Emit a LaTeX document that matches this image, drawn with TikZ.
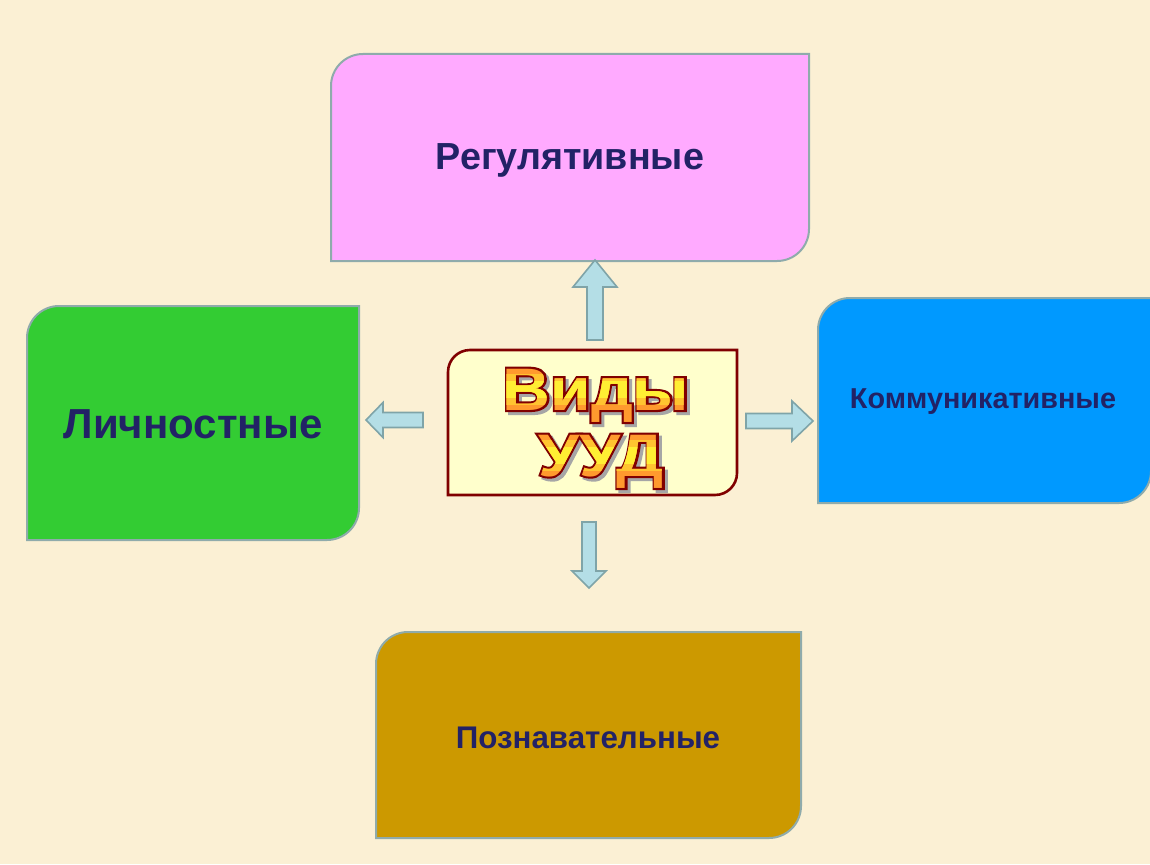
\documentclass[tikz,border=0pt]{standalone}
\usepackage{fontspec}
\setmainfont{Liberation Sans}
\newfontfamily\vidfont[FakeStretch=1.1]{Liberation Sans}
\newfontfamily\videdge[FakeStretch=1.1,FakeBold=7]{Liberation Sans}
\definecolor{paper}{HTML}{FBF0D4}
\definecolor{ink}{HTML}{222266}
\definecolor{rim}{HTML}{8FABAB}
\definecolor{pinkbox}{HTML}{FFAAFF}
\definecolor{greenbox}{HTML}{33CC33}
\definecolor{bluebox}{HTML}{0099FF}
\definecolor{goldbox}{HTML}{CC9900}
\definecolor{vidback}{HTML}{FFFFCC}
\definecolor{vidrim}{HTML}{800000}
\definecolor{arrfill}{HTML}{B4DEE6}
\definecolor{arrrim}{HTML}{7FA4A8}
\definecolor{vidorange}{HTML}{FF9A2E}
\definecolor{vidmid}{HTML}{FFC430}
\definecolor{vidyellow}{HTML}{FFEE33}
\begin{document}
\begin{tikzpicture}[x=1pt,y=-1pt,
    box/.style={draw=rim, line width=2pt},
    lbl/.style={text=ink, inner sep=0pt},
    blk/.style={draw=arrrim, fill=arrfill, line width=1.6pt, line join=miter}]
    \fill[paper] (0,0) rectangle (1150,864);
    \useasboundingbox (0,0) rectangle (1150,864);

    % boxes: top-left and bottom-right corners rounded
    \draw[box, fill=pinkbox] (331,261) -- (331,86) arc[start angle=180, end angle=270, radius=32]
        -- (809,54) -- (809,229) arc[start angle=0, end angle=90, radius=32] -- cycle;
    \draw[box, fill=greenbox] (27,540) -- (27,338) arc[start angle=180, end angle=270, radius=32]
        -- (359,306) -- (359,508) arc[start angle=0, end angle=90, radius=32] -- cycle;
    \draw[box, fill=bluebox] (818,503) -- (818,330) arc[start angle=180, end angle=270, radius=32]
        -- (1151,298) -- (1151,471) arc[start angle=0, end angle=90, radius=32] -- cycle;
    \draw[box, fill=goldbox] (376,838) -- (376,664) arc[start angle=180, end angle=270, radius=32]
        -- (801,632) -- (801,806) arc[start angle=0, end angle=90, radius=32] -- cycle;
    \draw[draw=vidrim, line width=2.6pt, fill=vidback] (448,495) -- (448,372) arc[start angle=180, end angle=270, radius=22]
        -- (737,350) -- (737,473) arc[start angle=0, end angle=90, radius=22] -- cycle;

    \node[lbl, font=\bfseries\fontsize{37.7}{40}\selectfont] (REG) at (570,160) {Регулятивные};
    \node[lbl, font=\bfseries\fontsize{42}{46}\selectfont] (LIC) at (193,424) {Личностные};
    \node[lbl, font=\bfseries\fontsize{28.8}{32}\selectfont] (KOM) at (983,402) {Коммуникативные};
    \node[lbl, font=\bfseries\fontsize{31.3}{34}\selectfont] (POZ) at (588,738) {Познавательные};

    % block arrows, drawn pointing right and turned
    \begin{scope}[shift={(595,340)}, rotate=90]
        \draw[blk] (0,8) -- (53,8) -- (53,22) -- (80,0) -- (53,-22) -- (53,-8) -- (0,-8) -- cycle;
    \end{scope}
    \begin{scope}[shift={(423,420)}, rotate=180]
        \draw[blk] (0,7.5) -- (40,7.5) -- (40,17.5) -- (57,0) -- (40,-17.5) -- (40,-7.5) -- (0,-7.5) -- cycle;
    \end{scope}
    \begin{scope}[shift={(746,421)}]
        \draw[blk] (0,7.5) -- (46,7.5) -- (46,20) -- (67,0) -- (46,-20) -- (46,-7.5) -- (0,-7.5) -- cycle;
    \end{scope}
    \begin{scope}[shift={(589,522)}, rotate=270]
        \draw[blk] (0,7) -- (49,7) -- (49,17) -- (66,0) -- (49,-17) -- (49,-7) -- (0,-7) -- cycle;
    \end{scope}

    % title lettering
    \foreach \word/\wx/\wy [count=\i] in {Виды/596/410, УУД/601/476} {
        \node[anchor=base, inner sep=0pt, text=black!35, font=\videdge\bfseries\fontsize{60}{64}\selectfont]
            (vs\i) at (\wx+3,\wy+3) {\word};
        \node[anchor=base, inner sep=0pt, text=vidrim, font=\videdge\bfseries\fontsize{60}{64}\selectfont]
            (ve\i) at (\wx,\wy) {\word};
        \node[anchor=base, inner sep=0pt, text=vidorange, font=\vidfont\bfseries\fontsize{60}{64}\selectfont]
            (vf\i) at (\wx,\wy) {\word};
        \begin{scope}
            \clip (\wx-130,\wy-36) rectangle (\wx+130,\wy-6);
            \node[anchor=base, inner sep=0pt, text=vidmid, font=\vidfont\bfseries\fontsize{60}{64}\selectfont]
                (vm\i) at (\wx,\wy) {\word};
        \end{scope}
        \begin{scope}
            \clip (\wx-130,\wy-29) rectangle (\wx+130,\wy-13);
            \node[anchor=base, inner sep=0pt, text=vidyellow, font=\vidfont\bfseries\fontsize{60}{64}\selectfont]
                (vy\i) at (\wx,\wy) {\word};
        \end{scope}
    }
\end{tikzpicture}
\end{document}
